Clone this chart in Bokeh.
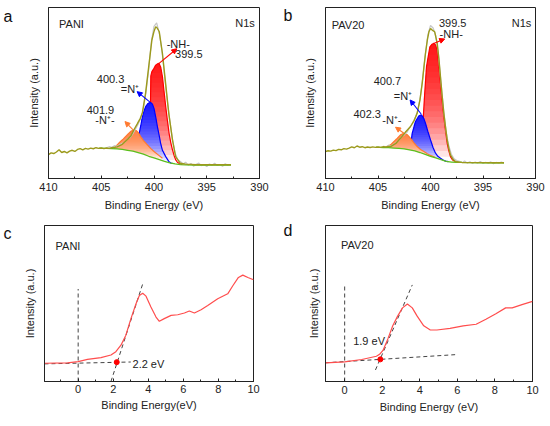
import numpy as np
from bokeh.plotting import figure
from bokeh.layouts import column, row
from bokeh.models import (Label, Arrow, NormalHead, SingleIntervalTicker,
                          FixedTicker, Range1d, LinearAxis)
from bokeh.embed import file_html
from bokeh.resources import INLINE

FONT = "Liberation Sans"
TXT = "#222222"

# ---------------- panel a (PANI, N1s) ----------------
a_env_x = [410, 409.75, 409.5, 409.25, 409.0, 408.75, 408.5, 408.25, 408.0, 407.75, 407.5, 407.25,
           407.0, 406.75, 406.5, 406.25, 406.0, 405.75, 405.5, 405.25, 405.0, 404.75, 404.5, 404.25,
           404.0, 403.5, 403.0, 402.5, 402.2, 401.9, 401.6, 401.3, 401.1, 400.8, 400.5, 400.2,
           400.0, 399.84, 399.7, 399.5, 399.2, 398.9, 398.6, 398.25, 397.95, 397.5, 397.0, 396.0,
           395.0, 394.0, 393.0, 392.7]
a_env_y = [.140, .150, .146, .155, .168, .152, .158, .150, .160, .165, .158, .170,
           .175, .168, .176, .172, .178, .174, .180, .176, .178, .175, .178, .176,
           .180, .185, .200, .230, .248, .285, .318, .352, .385, .498, .654, .810,
           .860, .887, .880, .858, .731, .556, .381, .226, .128, .089, .084, .080,
           .080, .080, .080, .080]
a_raw_x = [404.5, 404.25, 404.0, 403.75, 403.5, 403.25, 403.0, 402.75, 402.5, 402.25, 402.0, 401.75,
           401.5, 401.25, 401.0, 400.75, 400.5, 400.25, 400.0, 399.75, 399.5, 399.25, 399.0, 398.75,
           398.5, 398.25, 398.0, 397.75, 397.5, 397.25, 397.0, 396.75, 396.5, 396.25, 396.0, 395.75,
           395.5, 395.25, 395.0, 394.75, 394.5, 394.25, 394.0, 393.75, 393.5, 393.25, 393.0, 392.75]
a_raw_y = [.180, .186, .182, .192, .188, .198, .205, .212, .232, .240, .262, .290,
           .318, .352, .410, .510, .640, .800, .890, .910, .850, .750, .600, .460,
           .340, .230, .150, .110, .100, .085, .095, .078, .088, .072, .083, .090,
           .075, .082, .070, .085, .078, .090, .076, .082, .072, .086, .078, .082]
a_bg_x = [405.2, 404.5, 404.0, 403.5, 403.0, 402.5, 402.0, 401.5, 401.0, 400.5, 400.0, 399.5,
          399.0, 398.5, 398.0, 397.5, 397.0, 396.0, 395.0, 394.0, 393.0, 392.7]
a_bg_y = [.178, .176, .175, .173, .170, .165, .160, .152, .143, .130, .120, .110,
          .100, .092, .085, .081, .080, .079, .079, .079, .079, .079]
a_red_x = [400.8, 400.5, 400.36, 400.3, 400.2, 400.0, 399.84, 399.68, 399.52, 399.36, 399.2,
           399.05, 398.89, 398.73, 398.57, 398.41, 398.25, 398.1, 397.94, 397.78, 397.6, 397.3]
a_red_y = [.135, .200, .300, .600, .625, .645, .663, .670, .673, .650, .595,
           .510, .420, .340, .264, .210, .168, .135, .109, .095, .088, .082]
a_blue_x = [401.7, 401.43, 401.25, 401.1, 400.95, 400.79, 400.6, 400.45, 400.32, 400.15,
            400.0, 399.84, 399.68, 399.52, 399.37, 399.2, 398.89, 398.6, 398.41, 398.2]
a_blue_y = [.160, .255, .310, .362, .395, .420, .437, .443, .444, .435,
            .410, .360, .304, .255, .206, .165, .128, .100, .089, .084]
a_orng_x = [403.8, 403.49, 403.2, 402.9, 402.7, 402.4, 402.15, 401.9, 401.65, 401.45, 401.27,
            401.0, 400.63, 400.3, 400.0, 399.6, 399.2]
a_orng_y = [.176, .197, .215, .232, .245, .264, .278, .284, .279, .265, .245,
            .222, .197, .175, .158, .138, .118]

# ---------------- panel b (PAV20, N1s) ----------------
b_env_x = [410, 409.75, 409.5, 409.25, 409.0, 408.75, 408.5, 408.25, 408.0, 407.75, 407.5, 407.25,
           407.0, 406.75, 406.5, 406.25, 406.0, 405.75, 405.5, 405.25, 405.0, 404.75, 404.5, 404.25,
           404.0, 403.8, 403.3, 402.86, 402.4, 401.9, 401.55, 401.27, 401.0, 400.79, 400.63, 400.48,
           400.3, 400.15, 400.0, 399.84, 399.6, 399.36, 399.2, 399.05, 398.9, 398.73, 398.57,
           398.41, 398.25, 398.1, 397.85, 397.62, 397.3, 397.0, 396.0, 395.0, 394.0, 393.0]
b_env_y = [.158, .162, .160, .166, .163, .170, .168, .175, .172, .178, .185, .180,
           .190, .183, .186, .180, .184, .181, .185, .182, .184, .182, .186, .184,
           .187, .187, .205, .235, .270, .304, .340, .381, .460, .556, .650, .731,
           .810, .858, .877, .868, .858, .790, .700, .595, .490, .381, .300,
           .226, .175, .138, .112, .099, .095, .094, .093, .093, .092, .092]
b_raw_x = [404.5, 404.25, 404.0, 403.75, 403.5, 403.25, 403.0, 402.75, 402.5, 402.25, 402.0, 401.75,
           401.5, 401.25, 401.0, 400.75, 400.5, 400.25, 400.0, 399.75, 399.5, 399.25, 399.0, 398.75,
           398.5, 398.25, 398.0, 397.75, 397.5, 397.25, 397.0, 396.75, 396.5, 396.25, 396.0, 395.75,
           395.5, 395.25, 395.0, 394.75, 394.5, 394.25, 394.0, 393.75, 393.5, 393.25, 393.0]
b_raw_y = [.190, .184, .195, .190, .200, .210, .222, .245, .255, .270, .295, .320,
           .350, .390, .465, .580, .720, .840, .895, .880, .835, .730, .560, .400,
           .270, .190, .140, .115, .105, .100, .092, .102, .090, .098, .088, .096,
           .090, .100, .088, .095, .090, .097, .086, .094, .090, .096, .090]
b_bg_x = [405.2, 404.5, 404.0, 403.5, 403.0, 402.5, 402.0, 401.5, 401.0, 400.5, 400.0, 399.5,
          399.0, 398.5, 398.0, 397.5, 397.0, 396.0, 395.0, 394.0, 393.0]
b_bg_y = [.183, .181, .180, .178, .176, .173, .168, .162, .152, .141, .130, .120,
          .110, .100, .096, .095, .094, .093, .092, .092, .092]
b_red_x = [400.9, 400.7, 400.55, 400.38, 400.2, 400.06, 399.85, 399.68, 399.5, 399.36, 399.2,
           399.05, 398.9, 398.73, 398.57, 398.41, 398.25, 398.1, 397.9, 397.6, 397.3]
b_red_y = [.165, .343, .500, .654, .720, .770, .785, .790, .780, .751, .660,
           .556, .460, .362, .280, .206, .160, .128, .108, .098, .095]
b_blue_x = [402.0, 401.9, 401.74, 401.43, 401.1, 400.86, 400.63, 400.48, 400.25, 400.0,
            399.75, 399.52, 399.3, 399.05, 398.8, 398.57, 398.3]
b_blue_y = [.170, .187, .265, .333, .366, .372, .350, .323, .275, .226,
            .180, .148, .130, .119, .108, .099, .096]
b_orng_x = [404.4, 404.1, 403.8, 403.5, 403.17, 402.86, 402.53, 402.2, 401.9, 401.6, 401.27,
            400.95, 400.63, 400.3, 400.0, 399.6]
b_orng_y = [.183, .188, .197, .215, .235, .255, .265, .255, .235, .210, .187,
            .170, .158, .145, .135, .125]

# ---------------- panel c (PANI, VB) ----------------
c_x = [-1.92, -0.61, 0, 0.53, 1.30, 1.87, 2.15, 2.44, 2.72, 3.01, 3.30, 3.49, 3.68, 3.87, 4.15,
       4.44, 4.63, 4.91, 5.3, 5.68, 6.06, 6.34, 6.63, 7.01, 7.39, 7.96, 8.53, 8.82, 9.14, 9.39,
       9.68, 10]
c_y = [.117, .119, .127, .142, .153, .170, .191, .233, .297, .403, .498, .551, .566, .547, .477,
       .413, .386, .403, .424, .428, .439, .452, .439, .460, .487, .530, .562, .614, .667, .682,
       .667, .652]
c_onset = 2.2

# ---------------- panel d (PAV20, VB) ----------------
d_x = [-1.02, 0, 0.91, 1.69, 1.86, 2.04, 2.30, 2.56, 2.82, 3.08, 3.34, 3.60, 3.86, 4.21, 4.56,
       4.91, 5.61, 6.31, 7.0, 7.52, 8.05, 8.57, 8.92, 9.44, 10]
d_y = [.120, .126, .141, .162, .174, .199, .273, .357, .419, .472, .497, .472, .419, .357, .330,
       .330, .340, .357, .367, .399, .434, .472, .472, .493, .514]
d_onset = 1.9

panel_letters = ["a", "b", "c", "d"]


def make_fig(w, h, bl, br, bt, bb, xr, interval, xlabel, ystand, tstand, xlstand,
             letter, letter_y, letter_stand):
    p = figure(width=w, height=h, x_range=Range1d(*xr), y_range=Range1d(0, 1),
               output_backend="svg", toolbar_location=None,
               min_border_left=bl, min_border_right=br, min_border_top=bt, min_border_bottom=bb)
    p.xgrid.visible = False
    p.ygrid.visible = False
    p.outline_line_color = TXT
    p.outline_line_width = 1
    p.background_fill_color = "white"
    p.border_fill_color = "white"
    xa = p.xaxis[0]
    xa.ticker = SingleIntervalTicker(interval=interval, num_minor_ticks=2)
    xa.major_tick_in = 3
    xa.major_tick_out = 0
    xa.minor_tick_in = 2
    xa.minor_tick_out = 0
    xa.axis_line_color = TXT
    xa.major_tick_line_color = TXT
    xa.minor_tick_line_color = TXT
    xa.major_label_text_font = FONT
    xa.major_label_text_font_size = "11px"
    xa.major_label_text_color = TXT
    xa.major_label_standoff = tstand
    xa.axis_label = xlabel
    xa.axis_label_text_font = FONT
    xa.axis_label_text_font_size = "11px"
    xa.axis_label_text_font_style = "normal"
    xa.axis_label_text_color = TXT
    xa.axis_label_standoff = xlstand
    ya = p.yaxis[0]
    ya.ticker = FixedTicker(ticks=[])
    ya.major_tick_in = 0
    ya.major_tick_out = 0
    ya.minor_tick_line_color = None
    ya.axis_line_color = TXT
    ya.axis_label = "Intensity (a.u.)"
    ya.axis_label_text_font = FONT
    ya.axis_label_text_font_size = "11px"
    ya.axis_label_text_font_style = "normal"
    ya.axis_label_text_color = TXT
    ya.axis_label_standoff = ystand
    # panel letter, drawn as the single tick label of an extra, otherwise invisible axis
    la = LinearAxis(ticker=FixedTicker(ticks=[letter_y]),
                    major_label_overrides={letter_y: letter},
                    axis_line_color=None, major_tick_line_color=None,
                    minor_tick_line_color=None,
                    major_label_text_font=FONT, major_label_text_font_size="16px",
                    major_label_text_color="#111111", major_label_standoff=letter_stand)
    p.add_layout(la, "left")
    return p


def component(p, xs, ys, bgx, bgy, color, n=20, alpha=0.1):
    xs = np.array(xs, dtype=float)
    ys = np.array(ys, dtype=float)
    bx = np.array(bgx, dtype=float)
    by = np.array(bgy, dtype=float)
    o = np.argsort(bx)
    base = np.interp(xs, bx[o], by[o])
    top = np.maximum(ys, base)
    p.varea(x=xs, y1=base, y2=top, fill_color="white", fill_alpha=1.0)
    lo, hi = base.min(), top.max()
    for k in range(1, n + 1):
        L = lo + (hi - lo) * k / (n + 1)
        y1 = np.maximum(base, L)
        y2 = np.maximum(top, y1)
        p.varea(x=xs, y1=y1, y2=y2, fill_color=color, fill_alpha=alpha)
    p.line(xs, top, line_color=color, line_width=1.2)


def label(p, x, y, text, align="center", size="11px"):
    p.add_layout(Label(x=x, y=y, text=text, text_font=FONT,
                       text_font_size=size, text_color=TXT, text_align=align,
                       text_baseline="middle"))


def arrow(p, x0, y0, x1, y1, color):
    p.add_layout(Arrow(x_start=x0, y_start=y0, x_end=x1, y_end=y1, line_color=color,
                       line_width=1.1,
                       end=NormalHead(size=5, fill_color=color, line_color=color)))


RED, BLUE, ORNG = "#ff0000", "#0000ff", "#ff7a30"
GREEN, OLIVE, GRAY = "#5cbf1c", "#9c9a1c", "#c6c6c6"

# ---- a ----
pa = make_fig(280, 213, 47, 21, 7, 34, (410, 390), 5, "Binding Energy (eV)", 9, 4, 5,
              panel_letters[0], 0.95, 6)
component(pa, a_red_x, a_red_y, a_bg_x, a_bg_y, RED)
component(pa, a_blue_x, a_blue_y, a_bg_x, a_bg_y, BLUE)
component(pa, a_orng_x, a_orng_y, a_bg_x, a_bg_y, ORNG)
pa.line(a_raw_x, a_raw_y, line_color=GRAY, line_width=1.2)
pa.line(a_bg_x, a_bg_y, line_color=GREEN, line_width=1.3)
pa.line(a_env_x, a_env_y, line_color=OLIVE, line_width=1.4)
arrow(pa, 399.52, 0.673, 397.84, 0.759, RED)
arrow(pa, 400.32, 0.444, 401.6, 0.508, BLUE)
arrow(pa, 401.98, 0.284, 402.75, 0.333, ORNG)
label(pa, 409.0, 0.905, "PANI", "left")
label(pa, 390.45, 0.911, "N1s", "right")
label(pa, 397.7, 0.787, "-NH-")
label(pa, 396.7, 0.728, "399.5")
label(pa, 404.12, 0.582, "400.3")
label(pa, 402.27, 0.524, "=N\u207a")
label(pa, 405.08, 0.401, "401.9")
label(pa, 404.65, 0.343, "-N\u207a-")

# ---- b ----
pb = make_fig(270, 213, 41, 15, 7, 34, (410, 390), 5, "Binding Energy (eV)", 10, 4, 5,
              panel_letters[1], 0.955, 2)
component(pb, b_red_x, b_red_y, b_bg_x, b_bg_y, RED)
component(pb, b_blue_x, b_blue_y, b_bg_x, b_bg_y, BLUE)
component(pb, b_orng_x, b_orng_y, b_bg_x, b_bg_y, ORNG)
pb.line(b_raw_x, b_raw_y, line_color=GRAY, line_width=1.2)
pb.line(b_bg_x, b_bg_y, line_color=GREEN, line_width=1.3)
pb.line(b_env_x, b_env_y, line_color=OLIVE, line_width=1.4)
arrow(pb, 399.70, 0.79, 398.65, 0.816, RED)
arrow(pb, 400.89, 0.377, 401.94, 0.459, BLUE)
arrow(pb, 402.53, 0.265, 403.33, 0.30, ORNG)
label(pb, 409.4, 0.90, "PAV20", "left")
label(pb, 390.4, 0.911, "N1s", "right")
label(pb, 397.89, 0.912, "399.5")
label(pb, 398.03, 0.845, "-NH-")
label(pb, 404.1, 0.57, "400.7")
label(pb, 402.62, 0.485, "=N\u207a")
label(pb, 406.03, 0.375, "402.3")
label(pb, 403.68, 0.343, "-N\u207a-")

# ---- c ----
DASH = "#444444"
pc = make_fig(280, 213, 44, 27, 9, 45, (-1.92, 10), 2, "Binding Energy(eV)", 9, 3, 3,
              panel_letters[2], 0.95, 3)
pc.line([0, 0], [0, 0.593], line_color=DASH, line_dash="4 3", line_width=1)
pc.line([-1.92, 3.0], [0.113, 0.125], line_color=DASH, line_dash="4 3", line_width=1)
pc.line([1.87, 3.68], [0.0, 0.625], line_color=DASH, line_dash="4 3", line_width=1)
pc.line(c_x, c_y, line_color="#ff4d4d", line_width=1.2)
pc.scatter([c_onset], [0.124], size=5, color="#ff0000")
label(pc, 3.1, 0.11, "2.2 eV", "left")
label(pc, -1.29, 0.866, "PANI", "left")

# ---- d ----
pd_ = make_fig(270, 213, 41, 18, 12, 42, (-1.02, 10), 2, "Binding Energy (eV)", 6, 4, 4,
               panel_letters[3], 0.969, 6)
pd_.line([0, 0], [0, 0.614], line_color=DASH, line_dash="4 3", line_width=1)
pd_.line([-1.02, 5.88], [0.12, 0.172], line_color=DASH, line_dash="4 3", line_width=1)
pd_.line([1.64, 3.6], [0.074, 0.619], line_color=DASH, line_dash="4 3", line_width=1)
pd_.line(d_x, d_y, line_color="#ff4d4d", line_width=1.2)
pd_.scatter([d_onset], [0.142], size=5, color="#ff0000")
label(pd_, 1.3, 0.258, "1.9 eV")
label(pd_, -0.2, 0.876, "PAV20", "left")

layout = column(row(pa, pb), row(pc, pd_))
open("out.html", "w").write(file_html(layout, INLINE))
